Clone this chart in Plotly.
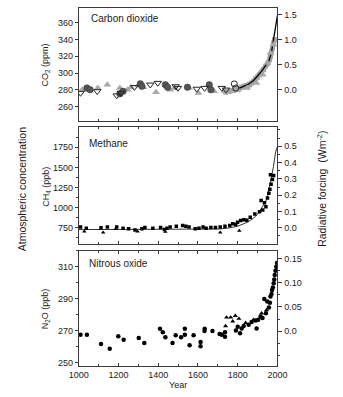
import plotly.graph_objects as go

# ---------------- data ----------------
# CO2 (ppm)
co2_tri_year = [1017, 1096, 1144, 1207, 1246, 1262, 1299, 1325, 1389, 1460, 1483, 1555, 1602, 1681, 1736, 1800, 1847, 1894, 1926, 1950, 1965, 1981]
co2_tri_val = [280, 282, 286, 282, 280, 283, 285, 283, 277, 280, 282, 282, 276, 278, 278, 280, 282, 288, 298, 312, 324, 334]
co2_circ_year = [1041, 1057, 1207, 1223, 1310, 1318, 1436, 1447, 1547, 1657, 1665]
co2_circ_val = [282, 280, 275, 278, 287, 284, 286, 283, 283, 286, 280]
co2_invtri_year = [1009, 1093, 1191, 1212, 1280, 1360, 1398, 1488, 1499, 1594, 1633, 1720, 1741]
co2_invtri_val = [276, 278, 273, 276, 283, 286, 288, 284, 282, 281, 282, 282, 280]
co2_open_year = [1783, 1790]
co2_open_val = [287, 282]
co2_band_year = [1740, 1760, 1780, 1800, 1810, 1820, 1830, 1840, 1850, 1860, 1870, 1880, 1890, 1900,
                 1910, 1920, 1930, 1940, 1950, 1960, 1965, 1970, 1975, 1980, 1985]
co2_band_val = [277, 278, 279, 280, 282, 283, 284, 284, 285, 286, 288, 290, 293, 295,
                298, 301, 304, 308, 311, 316, 320, 325, 330, 335, 340]
co2_line_year = [1800, 1820, 1850, 1880, 1900, 1920, 1940, 1958, 1970, 1980, 1990, 2000]
co2_line_val = [281, 283, 286, 291, 296, 302, 309, 315, 325, 338, 354, 369]

# CH4 (ppb)
ch4_sq_year = [1009, 1038, 1112, 1144, 1191, 1223, 1251, 1283, 1318, 1333, 1373, 1412, 1431, 1444, 1460,
               1491, 1523, 1539, 1555, 1586, 1605, 1626, 1641, 1665, 1688, 1712, 1736, 1760, 1775, 1790,
               1799, 1815, 1831, 1846, 1863, 1886, 1910, 1918, 1926, 1935, 1942, 1950, 1957, 1962,
               1965, 1968, 1975, 1981]
ch4_sq_val = [760, 745, 750, 760, 760, 745, 740, 722, 740, 755, 745, 755, 730, 745, 760,
              768, 778, 768, 760, 738, 745, 760, 745, 755, 755, 760, 768, 778, 800, 790,
              820, 840, 850, 845, 880, 920, 950, 1090, 970, 1060, 1010, 1120, 1180, 1230,
              1410, 1290, 1350, 1400]
ch4_tri_year = [1028, 1123, 1185, 1296, 1436, 1712, 1808]
ch4_tri_val = [705, 693, 734, 705, 701, 693, 713]
ch4_line_year = [1000, 1200, 1400, 1600, 1700, 1750, 1800, 1850, 1880, 1900, 1920, 1940, 1950, 1960, 1970, 1980, 1990, 1998]
ch4_line_val = [728, 728, 732, 732, 735, 745, 770, 820, 870, 920, 990, 1070, 1140, 1260, 1390, 1510, 1680, 1750]

# N2O (ppb)
n2o_sq_year = [1009, 1041, 1112, 1156, 1199, 1226, 1302, 1330, 1409, 1423, 1436, 1472, 1488, 1515, 1534,
               1534, 1558, 1578, 1613, 1613, 1633, 1634, 1673, 1709, 1720, 1736, 1736, 1791, 1800,
               1812, 1820, 1830, 1855, 1870, 1890, 1895, 1903, 1915, 1925, 1934, 1942, 1949, 1957,
               1962, 1965, 1970, 1973, 1977, 1981, 1984, 1986, 1990, 1994, 1998]
n2o_sq_val = [267.6, 267.6, 261.8, 258.9, 266.6, 264.5, 265.6, 262.5, 271.3, 269.2, 266.1, 262.5, 267.2, 266.1, 271.3,
              267.6, 261.0, 267.2, 263.0, 260.4, 270.0, 271.3, 270.0, 268.0, 267.6, 269.2, 266.3, 270.3, 272.5,
              268.5, 271.5, 273.0, 273.8, 275.5, 276.5, 271.5, 276.9, 279.0, 278.0, 289.9, 281.0, 288.3, 284.6,
              287.5, 291.4, 293.0, 295.5, 297.0, 299.7, 302.0, 304.8, 307.5, 310.0, 312.4]
n2o_tri_year = [1739, 1744, 1765, 1775, 1788, 1806, 1840, 1880, 1920, 1945]
n2o_tri_val = [273.0, 278.4, 278.4, 276.0, 279.4, 277.6, 275.0, 277.0, 281.0, 283.0]

# axis tick labels
co2_rf_ticks = [0.0, 0.5, 1.0, 1.5]
co2_rf_text = ["0.0", "0.5", "1.0", "1.5"]
ch4_rf_ticks = [0.0, 0.1, 0.2, 0.3, 0.4, 0.5]
ch4_rf_text = ["0.0", "0.1", "0.2", "0.3", "0.4", "0.5"]
n2o_rf_ticks = [0.0, 0.05, 0.10, 0.15]
n2o_rf_text = ["0.0", "0.05", "0.10", "0.15"]

# ---------------- figure ----------------
W, H = 343, 397
FONT = "Liberation Sans, Arial, sans-serif"
AX = "#3a3a3a"
TXT = "#222222"

def dom_y(top, bottom):
    return [1 - bottom / H, 1 - top / H]

xdom = [73 / W, 284 / W]
d1 = dom_y(8, 122)
d2 = dom_y(128, 245)
d3 = dom_y(252, 368)

fig = go.Figure()

# CO2 panel
fig.add_trace(go.Scatter(x=co2_band_year, y=co2_band_val, mode="lines", xaxis="x", yaxis="y",
                         line=dict(color="#a6a6a6", width=5)))
fig.add_trace(go.Scatter(x=co2_band_year, y=co2_band_val, mode="markers", xaxis="x", yaxis="y",
                         marker=dict(symbol="square", size=5, color="#a6a6a6")))
fig.add_trace(go.Scatter(x=co2_line_year, y=co2_line_val, mode="lines", xaxis="x", yaxis="y",
                         line=dict(color="black", width=1.3)))
fig.add_trace(go.Scatter(x=co2_tri_year, y=co2_tri_val, mode="markers", xaxis="x", yaxis="y",
                         marker=dict(symbol="triangle-up", size=7, color="#a8a8a8", line=dict(width=0))))
fig.add_trace(go.Scatter(x=co2_circ_year, y=co2_circ_val, mode="markers", xaxis="x", yaxis="y",
                         marker=dict(symbol="circle", size=6.5, color="#555555", line=dict(width=0.5, color="#333"))))
fig.add_trace(go.Scatter(x=co2_invtri_year, y=co2_invtri_val, mode="markers", xaxis="x", yaxis="y",
                         marker=dict(symbol="triangle-down-open", size=6.5, color="#222222", line=dict(width=1))))
fig.add_trace(go.Scatter(x=co2_open_year, y=co2_open_val, mode="markers", xaxis="x", yaxis="y",
                         marker=dict(symbol="circle-open", size=6, color="#222222", line=dict(width=1))))

# CH4 panel
fig.add_trace(go.Scatter(x=ch4_line_year, y=ch4_line_val, mode="lines", xaxis="x2", yaxis="y2",
                         line=dict(color="black", width=0.8)))
fig.add_trace(go.Scatter(x=ch4_sq_year, y=ch4_sq_val, mode="markers", xaxis="x2", yaxis="y2",
                         marker=dict(symbol="square", size=3.5, color="black")))
fig.add_trace(go.Scatter(x=ch4_tri_year, y=ch4_tri_val, mode="markers", xaxis="x2", yaxis="y2",
                         marker=dict(symbol="triangle-up", size=4, color="black")))

# N2O panel
fig.add_trace(go.Scatter(x=n2o_sq_year, y=n2o_sq_val, mode="markers", xaxis="x3", yaxis="y3",
                         marker=dict(symbol="circle", size=4.5, color="black")))
fig.add_trace(go.Scatter(x=n2o_tri_year, y=n2o_tri_val, mode="markers", xaxis="x3", yaxis="y3",
                         marker=dict(symbol="triangle-up", size=4.5, color="black")))

tickfont = dict(family=FONT, size=9, color=TXT)

def xax(anchor, labels, mirror):
    return dict(domain=xdom, anchor=anchor, range=[1000, 2000], showline=True, linecolor=AX, linewidth=1,
                mirror=mirror, ticks="inside", ticklen=3, tickcolor=AX, dtick=200, tick0=1000,
                showticklabels=labels, tickfont=tickfont, showgrid=False, zeroline=False,
                minor=dict(ticks="inside", ticklen=2, dtick=100, tickcolor=AX))

def yax_left(dom, rng, tick0, dtick, minor, anchor):
    d = dict(domain=dom, anchor=anchor, range=rng, showline=True, linecolor=AX, linewidth=1,
             ticks="outside", ticklen=3, tickcolor=AX, tick0=tick0, dtick=dtick, tickfont=tickfont,
             showgrid=False, zeroline=False)
    if minor:
        d["minor"] = dict(ticks="outside", ticklen=2, dtick=minor, tick0=tick0, tickcolor=AX)
    return d

def yax_right(over, anchor, rng, vals, text, minor):
    d = dict(overlaying=over, anchor=anchor, side="right", range=rng, showline=True, linecolor=AX,
             linewidth=1, ticks="outside", ticklen=4, tickcolor=AX, tickvals=vals, ticktext=text,
             tickfont=tickfont, showgrid=False, zeroline=False)
    if minor:
        d["minor"] = dict(ticks="outside", ticklen=2, dtick=minor, tick0=0, tickcolor=AX)
    return d

fig.update_layout(
    width=W, height=H, margin=dict(l=0, r=0, t=0, b=0),
    paper_bgcolor="white", plot_bgcolor="white", showlegend=False,
    font=dict(family=FONT, size=9, color=TXT),
    xaxis=xax("y", False, True),
    xaxis2=xax("y2", False, "ticks"),
    xaxis3=xax("y3", True, "ticks"),
    yaxis=yax_left(d1, [242, 378], 260, 20, None, "x"),
    yaxis2=yax_left(d2, [552, 1997], 750, 250, 125, "x2"),
    yaxis3=yax_left(d3, [248, 320], 250, 20, 10, "x3"),
    yaxis4=yax_right("y", "x", [-0.64, 1.64], co2_rf_ticks, co2_rf_text, None),
    yaxis5=yax_right("y2", "x2", [-0.098, 0.616], ch4_rf_ticks, ch4_rf_text, 0.05),
    yaxis6=yax_right("y3", "x3", [-0.072, 0.166], n2o_rf_ticks, n2o_rf_text, 0.025),
)

# empty traces so the right-hand axes are drawn
for ya, xa in (("y4", "x"), ("y5", "x2"), ("y6", "x3")):
    fig.add_trace(go.Scatter(x=[], y=[], xaxis=xa, yaxis=ya, mode="markers", hoverinfo="skip"))

ann = []
def A(text, x, y, size=10, angle=0, xanchor="left"):
    ann.append(dict(text=text, x=x / W, y=1 - y / H, xref="paper", yref="paper", showarrow=False,
                    xanchor=xanchor, yanchor="middle", textangle=angle,
                    font=dict(family=FONT, size=size, color=TXT)))

A("Carbon dioxide", 84, 19)
A("Methane", 82, 144)
A("Nitrous oxide", 82, 265)
A("CO<sub>2</sub> (ppm)", 38, 65, size=9, angle=-90, xanchor="center")
A("CH<sub>4</sub> (ppb)", 38, 188, size=9, angle=-90, xanchor="center")
A("N<sub>2</sub>O (ppb)", 38, 310, size=9, angle=-90, xanchor="center")
A("Atmospheric concentration", 13, 190, size=10.5, angle=-90, xanchor="center")
A("Radiative forcing  (Wm<sup>-2</sup>)", 330, 190, size=10.5, angle=-90, xanchor="center")
A("Year", 178, 387, size=9, xanchor="center")
fig.update_layout(annotations=ann)

fig.write_html("out.html")
